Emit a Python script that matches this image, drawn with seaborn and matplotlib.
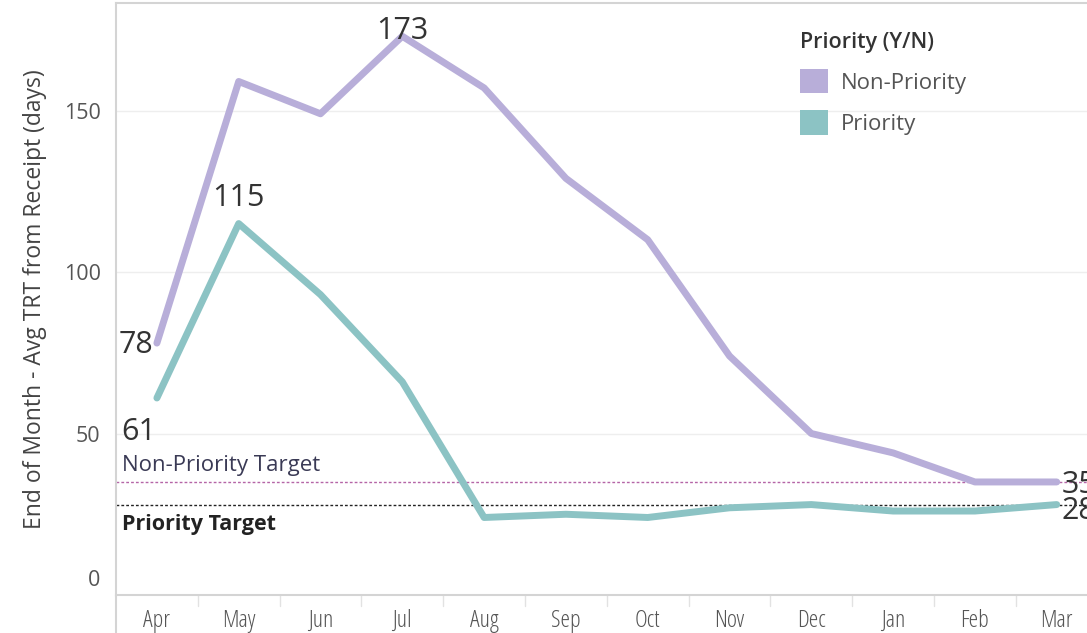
import pandas as pd
import matplotlib
matplotlib.use("Agg")
import matplotlib.pyplot as plt
import matplotlib.transforms as mtransforms
import seaborn as sns
from matplotlib.patches import Patch

# ---- data ----
months = ["Apr", "May", "Jun", "Jul", "Aug", "Sep", "Oct", "Nov", "Dec", "Jan", "Feb", "Mar"]
non_priority = [78, 159, 149, 173, 157, 129, 110, 74, 50, 44, 35, 35]
priority = [61, 115, 93, 66, 24, 25, 24, 27, 28, 26, 26, 28]
non_priority_target = 35
priority_target = 28

groups = ["Non-Priority", "Priority"]
colors = {"Non-Priority": "#b8aed9", "Priority": "#8cc3c4"}

df = pd.DataFrame({
    "month": months * 2,
    "x": list(range(len(months))) * 2,
    "value": non_priority + priority,
    "group": ["Non-Priority"] * len(months) + ["Priority"] * len(months),
})

sns.set_style("white")
plt.rcParams["font.family"] = ["Open Sans", "DejaVu Sans"]

fig = plt.figure(figsize=(10.87, 6.33), dpi=100)
ax = fig.add_axes([116 / 1087, 38 / 633, 1 - 116 / 1087, 592 / 633])

sns.lineplot(data=df, x="x", y="value", hue="group", palette=colors,
             linewidth=5, legend=False, ax=ax, solid_capstyle="round")

ax.set_xlim(-0.5, 11.37)
ax.set_ylim(0, 183.3)

# gridlines
for v in [50, 100, 150]:
    ax.axhline(v, color="#eeeeee", lw=1, zorder=0)

# target lines
ax.axhline(non_priority_target, color="#b565a7", lw=1, ls=(0, (2, 1.5)), zorder=1)
ax.axhline(priority_target, color="#222222", lw=1, ls=(0, (2, 1.5)), zorder=1)
ax.text(-0.43, 38.5, "Non-Priority Target", fontsize=16,
        color="#3a3a55", va="baseline", ha="left")
ax.text(-0.43, 20, "Priority Target", fontsize=15.5,
        color="#222222", va="baseline", ha="left", fontweight="bold")

# data labels
lab = dict(fontsize=22, color="#333333")
ax.text(-0.04, 75, str(non_priority[0]), ha="right", va="baseline", **lab)
ax.text(-0.22, 48, str(priority[0]), ha="center", va="baseline", **lab)
ax.text(1, 120.5, str(priority[1]), ha="center", va="baseline", **lab)
ax.text(3, 172.3, str(non_priority[3]), ha="center", va="baseline", **lab)
ax.text(11.06, non_priority[11] - 3.3, str(non_priority[11]), ha="left", va="baseline", clip_on=False, **lab)
ax.text(11.06, priority[11] - 4.5, str(priority[11]), ha="left", va="baseline", clip_on=False, **lab)

# axes styling
ax.set_xticks(range(len(months)))
ax.set_xticklabels(months, fontsize=17.5, color="#555555", fontstretch="condensed")
ax.set_yticks([0, 50, 100, 150])
ax.set_yticklabels(["0", "50", "100", "150"], fontsize=15.5, color="#555555")
ax.tick_params(axis="y", length=0, pad=11)
ax.tick_params(axis="x", length=0, pad=10)
zero_lbl = ax.yaxis.get_ticklabels()[0]
zero_lbl.set_transform(zero_lbl.get_transform() +
                       mtransforms.ScaledTranslation(0, 0.17, fig.dpi_scale_trans))
for i in range(len(months)):
    ax.plot([i + 0.5, i + 0.5], [0, -3.5], color="#e2e2e2", lw=1, clip_on=False)
ax.set_xlabel("")
ax.set_ylabel("End of Month - Avg TRT from Receipt (days)", fontsize=16.5,
              color="#444444", labelpad=12)

for side in ["left", "top", "bottom"]:
    ax.spines[side].set_color("#d4d4d4")
    ax.spines[side].set_linewidth(1.5)
ax.spines["right"].set_visible(False)
ax.plot([-0.5, -0.5], [0, -12], color="#d4d4d4", lw=1.5, clip_on=False)

# legend
handles = [Patch(facecolor=colors[g], edgecolor="none", label=g) for g in groups]
leg = ax.legend(handles=handles, title="Priority (Y/N)", loc="upper left",
                bbox_to_anchor=(0.688, 0.978), frameon=False, fontsize=16,
                handlelength=1.3, handleheight=1.3, handletextpad=0.55,
                labelspacing=0.75, alignment="left", borderaxespad=0.3)
leg.get_title().set_fontsize(15.5)
leg.get_title().set_fontweight("semibold")
leg.get_title().set_color("#333333")
for t in leg.get_texts():
    t.set_color("#555555")

fig.savefig("out.png", dpi=100)
